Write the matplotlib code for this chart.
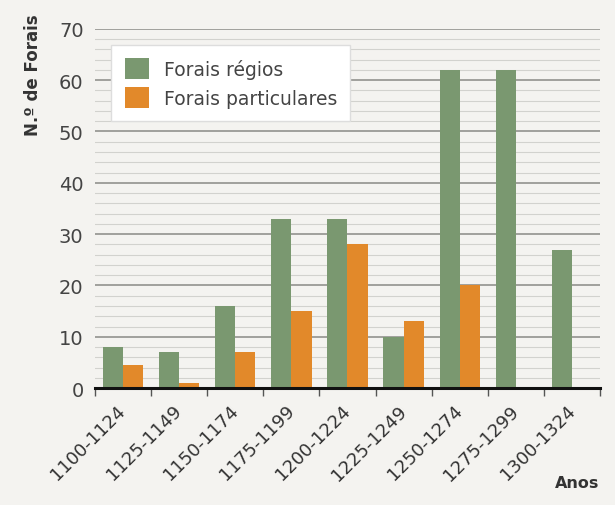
import matplotlib.pyplot as plt
import matplotlib.transforms as mtransforms
import numpy as np

periodos = ['1100-1124', '1125-1149', '1150-1174', '1175-1199', '1200-1224',
            '1225-1249', '1250-1274', '1275-1299', '1300-1324']
regios = [8, 7, 16, 33, 33, 10, 62, 62, 27]
particulares = [4.5, 1, 7, 15, 28, 13, 20, 0, 0]

bg = '#f4f3f0'
verde = '#7a9870'
laranja = '#e2892a'

fig = plt.figure(figsize=(6.15, 5.06), dpi=100, facecolor=bg)
ax = fig.add_axes([0.154, 0.231, 0.822, 0.710], facecolor=bg)

x = np.arange(len(periodos))
w = 0.36
ax.bar(x - w / 2, regios, w, color=verde, label='Forais régios', zorder=3)
ax.bar(x + w / 2, particulares, w, color=laranja, label='Forais particulares', zorder=3)

ax.set_ylim(0, 70)
ax.set_xlim(-0.5, len(periodos) - 0.5)
ax.set_yticks(range(0, 71, 10))
ax.set_yticks(range(0, 71, 2), minor=True)
ax.grid(axis='y', which='major', color='#9a9a96', linewidth=1.3, zorder=0)
ax.grid(axis='y', which='minor', color='#d2d2ce', linewidth=0.8, zorder=0)
ax.tick_params(axis='y', which='both', length=0, labelsize=14, colors='#444444', pad=8)

ax.set_xticks(x)
ax.set_xticklabels(periodos, rotation=45, ha='right', va='center', rotation_mode='anchor',
                   fontsize=13, color='#333333')
shift = mtransforms.ScaledTranslation(9 / 72, 0, fig.dpi_scale_trans)
for lbl in ax.get_xticklabels():
    lbl.set_transform(lbl.get_transform() + shift)
ax.set_xticks(np.arange(-0.5, len(periodos), 1), minor=True)
ax.tick_params(axis='x', which='major', length=0, pad=14)
ax.tick_params(axis='x', which='minor', length=6, width=1, color='#555555', direction='out')

for s in ['top', 'right', 'left']:
    ax.spines[s].set_visible(False)
ax.spines['bottom'].set_linewidth(2.2)
ax.spines['bottom'].set_color('#111111')
ax.spines['bottom'].set_zorder(4)

fig.text(33 / 615, 1 - 75 / 506, 'N.º de Forais', rotation=90, fontsize=12,
         fontweight='bold', color='#333333', ha='center', va='center')
fig.text(0.975, 0.035, 'Anos', fontsize=11.5, fontweight='bold', color='#333333', ha='right')

leg = ax.legend(loc='upper left', bbox_to_anchor=(0.033, 0.955), fontsize=13.5,
                frameon=True, fancybox=False, framealpha=1, edgecolor='#dddddd',
                handlelength=1.3, handleheight=1.3, borderpad=0.7, labelspacing=0.45,
                borderaxespad=0)
for t in leg.get_texts():
    t.set_color('#444444')

plt.savefig('out.png', dpi=100, facecolor=bg)
